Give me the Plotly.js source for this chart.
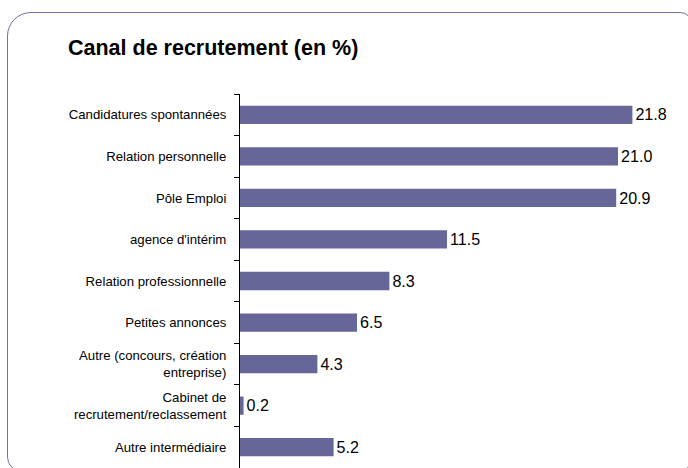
<!DOCTYPE html>
<html>
<head>
<meta charset="utf-8">
<script src="https://cdn.plot.ly/plotly-3.0.1.min.js"></script>
<style>
  html, body { margin: 0; padding: 0; background: #ffffff; overflow: hidden; }
  #wrap { position: relative; width: 688px; height: 468px; overflow: hidden; }
  #frame { position: absolute; left: 7px; top: 12px; width: 686px; height: 460px;
           border: 1px solid #7272a2; border-radius: 24px 13px 15px 15px; box-sizing: border-box; }
  #chart { position: absolute; left: 0; top: 0; width: 688px; height: 468px; }
</style>
</head>
<body>
<div id="wrap">
  <div id="frame"></div>
  <div id="chart"></div>
</div>
<script>
const categories = [
  "Candidatures spontannées",
  "Relation personnelle",
  "Pôle Emploi",
  "agence d'intérim",
  "Relation professionnelle",
  "Petites annonces",
  "Autre (concours, création<br>entreprise)",
  "Cabinet de<br>recrutement/reclassement",
  "Autre intermédiaire"
];
const values = [21.8, 21.0, 20.9, 11.5, 8.3, 6.5, 4.3, 0.2, 5.2];
const valueLabels = ["21.8", "21.0", "20.9", "11.5", "8.3", "6.5", "4.3", "0.2", "5.2"];
const chartTitle = "Canal de recrutement (en %)";

const trace = {
  type: "bar",
  orientation: "h",
  y: categories,
  x: values,
  text: valueLabels,
  textposition: "outside",
  textfont: { family: "Liberation Sans, Arial, sans-serif", size: 18.5, color: "#000000" },
  cliponaxis: false,
  marker: { color: "#666699" },
  hoverinfo: "none"
};

const layout = {
  width: 688,
  height: 468,
  margin: { l: 240, r: 16, t: 94, b: 0, pad: 0 },
  paper_bgcolor: "rgba(0,0,0,0)",
  plot_bgcolor: "rgba(0,0,0,0)",
  showlegend: false,
  bargap: 0.56,
  title: {
    text: "<b>" + chartTitle + "</b>",
    font: { family: "Liberation Sans, Arial, sans-serif", size: 21.5, color: "#000000" },
    xref: "container", yref: "container",
    x: 68 / 688, xanchor: "left",
    y: 1 - 47 / 468, yanchor: "middle"
  },
  xaxis: {
    range: [0, 24],
    visible: false,
    fixedrange: true
  },
  yaxis: {
    type: "category",
    autorange: "reversed",
    showline: true,
    linecolor: "#000000",
    linewidth: 1,
    ticks: "outside",
    tickson: "boundaries",
    ticklen: 5,
    tickcolor: "#000000",
    tickwidth: 1,
    showgrid: false,
    zeroline: false,
    ticklabelstandoff: 10,
    tickfont: { family: "Liberation Sans, Arial, sans-serif", size: 13.2, color: "#000000" },
    fixedrange: true
  }
};

Plotly.newPlot("chart", [trace], layout, { displayModeBar: false, staticPlot: true });
</script>
</body>
</html>
